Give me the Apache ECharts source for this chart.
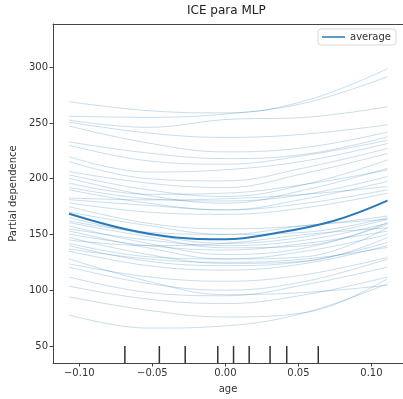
<!DOCTYPE html>
<html>
<head>
<meta charset="utf-8">
<script src="https://cdn.jsdelivr.net/npm/echarts@6/dist/echarts.min.js"></script>
<style>
  html, body { margin: 0; padding: 0; background: #fff; }
  #chart { width: 403px; height: 399px; }
</style>
</head>
<body>
<div id="chart"></div>
<script>
const ageGrid = [-0.107, -0.053, 0, 0.055, 0.111];

// one row per sample (partial dependence at each ageGrid point)
const iceCurves = [
  [269, 261, 259, 270, 298.6],
  [256, 255, 258, 268, 291.5],
  [252.5, 246, 253, 255, 264.5],
  [250.7, 241, 237, 240, 248.3],
  [247.2, 232, 224, 228, 241.8],
  [233, 223, 218, 222, 237.4],
  [230, 216, 213, 221, 234.4],
  [219.7, 206, 208, 216, 231.5],
  [215.3, 200, 198, 210, 227],
  [206.4, 196, 192, 205, 222.6],
  [203.4, 190, 184, 195, 216.7],
  [200.4, 185, 178, 190, 209.3],
  [196, 186, 187, 195, 207.8],
  [192.2, 182, 180, 186, 202],
  [190, 178, 172, 182, 197.5],
  [182.7, 181, 182, 186, 193],
  [181.2, 176, 172, 178, 190],
  [178.3, 170, 168, 174, 187],
  [175, 160, 155, 158, 166.5],
  [170, 158, 150, 152, 165],
  [165, 150, 142, 148, 163.5],
  [162, 152, 150, 158, 163.5],
  [160.5, 148, 138, 140, 160.6],
  [157.6, 142, 132, 138, 159],
  [155, 145, 140, 145, 160],
  [153.2, 138, 128, 130, 156],
  [150.2, 140, 136, 142, 153],
  [147.3, 132, 124, 126, 147.3],
  [145, 140, 142, 150, 156],
  [142, 130, 128, 135, 150],
  [140, 126, 122, 126, 142.8],
  [137, 128, 125, 128, 138.4],
  [135, 122, 118, 124, 140],
  [128, 108, 96, 98, 104.4],
  [123.6, 112, 108, 114, 129.5],
  [120.7, 106, 100, 108, 128],
  [111.8, 98, 95, 105, 120.7],
  [103.6, 92, 88, 96, 111.8],
  [94, 82, 76, 80, 110.3],
  [77.8, 66, 68, 80, 105.9]
];

const averageAge = [-0.107, -0.068, -0.034, 0, 0.034, 0.075, 0.111];
const averageCurve = [168.5, 154.6, 147.3, 145.6, 151, 162.5, 180.3];

const ageDeciles = [-0.0688, -0.0452, -0.0275, -0.0052, 0.0056, 0.0163, 0.0306, 0.0420, 0.0636];

const xTicks = [-0.1, -0.05, 0, 0.05, 0.1];
const yTicks = [50, 100, 150, 200, 250, 300];

const xMin = -0.118, xMax = 0.1216;
const yMin = 34.7, yMax = 338.7;

const font = 'DejaVu Sans';
const chart = echarts.init(document.getElementById('chart'));

const series = iceCurves.map(row => ({
  type: 'line',
  data: row.map((v, i) => [ageGrid[i], v]),
  smooth: 0.4,
  symbol: 'none',
  silent: true,
  animation: false,
  lineStyle: { color: '#1f77b4', width: 1, opacity: 0.24 },
  z: 2,
}));

series.push({
  name: 'average',
  type: 'line',
  data: averageCurve.map((v, i) => [averageAge[i], v]),
  smooth: 0.4,
  symbol: 'none',
  animation: false,
  itemStyle: { color: '#2a7ab9' },
  lineStyle: { color: '#2a7ab9', width: 2 },
  z: 3,
});

// deciles rug at the bottom, 5% of axes height
series.push({
  type: 'custom',
  data: ageDeciles.map(v => [v, yMin]),
  encode: { x: 0, y: 1 },
  silent: true,
  animation: false,
  renderItem: (params, api) => {
    const p = api.coord([api.value(0), api.value(1)]);
    const h = params.coordSys.height * 0.05;
    return {
      type: 'line',
      shape: { x1: p[0], y1: p[1], x2: p[0], y2: p[1] - h },
      style: { stroke: '#333', lineWidth: 1.5 },
    };
  },
  z: 4,
});

const spine = { show: true, onZero: false, lineStyle: { color: '#444', width: 1 } };

chart.setOption({
  animation: false,
  title: {
    text: 'ICE para MLP',
    left: 187,
    top: 5,
    padding: 0,
    textStyle: { fontFamily: font, fontSize: 12, fontWeight: 'normal', color: '#222' },
  },
  legend: {
    data: ['average'],
    left: 318,
    top: 29,
    padding: [3, 5, 3, 4],
    itemWidth: 23,
    itemHeight: 1.5,
    icon: 'rect',
    borderColor: '#d8d8d8',
    borderWidth: 1,
    borderRadius: 3,
    textStyle: { fontFamily: font, fontSize: 10, color: '#333' },
  },
  grid: {
    left: 53,
    top: 24,
    width: 352,
    height: 343,
  },
  xAxis: [{
    type: 'value',
    min: xMin,
    max: xMax,
    name: 'age',
    nameLocation: 'middle',
    nameGap: 21,
    nameTextStyle: { fontFamily: font, fontSize: 10, color: '#333' },
    splitLine: { show: false },
    axisLine: spine,
    axisTick: { show: true, length: 3.5, lineStyle: { color: '#444' }, customValues: xTicks },
    axisLabel: {
      customValues: xTicks,
      fontFamily: font,
      fontSize: 10,
      color: '#333',
      margin: 5,
      formatter: v => (v < 0 ? '\u2212' : '') + Math.abs(v).toFixed(2),
    },
  }, {
    // top spine only
    type: 'value',
    position: 'top',
    min: xMin,
    max: xMax,
    axisLine: spine,
    axisTick: { show: false },
    axisLabel: { show: false },
    splitLine: { show: false },
  }],
  yAxis: {
    type: 'value',
    min: yMin,
    max: yMax,
    name: 'Partial dependence',
    nameLocation: 'middle',
    nameGap: 32,
    nameTextStyle: { fontFamily: font, fontSize: 10, color: '#333' },
    splitLine: { show: false },
    axisLine: spine,
    axisTick: { show: true, length: 3.5, lineStyle: { color: '#444' }, customValues: yTicks },
    axisLabel: {
      customValues: yTicks,
      fontFamily: font,
      fontSize: 10,
      color: '#333',
      margin: 5,
    },
  },
  series: series,
});
</script>
</body>
</html>
